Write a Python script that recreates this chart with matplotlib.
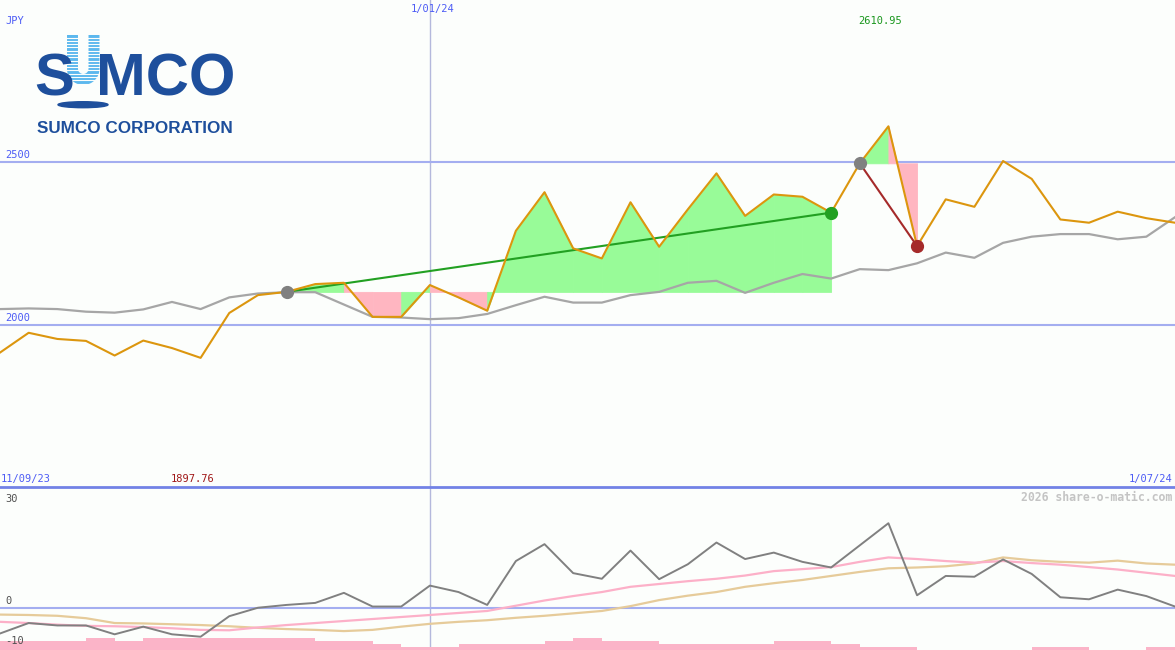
import matplotlib
matplotlib.use('Agg')
import matplotlib.pyplot as plt
from matplotlib.patches import Ellipse
import numpy as np

# weekly close (JPY) and its moving average
close = [1914, 1975, 1956, 1950, 1905, 1951, 1928, 1897.76, 2036, 2091,
         2101, 2125, 2129, 2024, 2024, 2122, 2084, 2043, 2289, 2408,
         2235, 2204, 2377, 2240, 2355, 2466, 2335, 2401, 2394, 2345,
         2497, 2610.95, 2242, 2386, 2363, 2504, 2449, 2324, 2314, 2348,
         2328, 2314]
avg = [2048, 2050, 2048, 2040, 2037, 2047, 2070, 2048, 2084, 2096,
       2100, 2100, 2062, 2024, 2022, 2017, 2020, 2033, 2060, 2086,
       2068, 2068, 2091, 2101, 2129, 2135, 2098, 2129, 2156, 2142,
       2171, 2168, 2189, 2222, 2206, 2252, 2271, 2279, 2279, 2263,
       2271, 2331]

# lower panel: oscillator, two signal lines, histogram
osc = [-6.4, -3.8, -4.4, -4.4, -6.6, -4.7, -6.6, -7.2, -2.1, 0.0,
       0.7, 1.2, 3.7, 0.3, 0.3, 5.5, 3.9, 0.7, 11.6, 15.8,
       8.6, 7.2, 14.2, 7.1, 10.8, 16.2, 12.1, 13.7, 11.4, 10.0,
       15.5, 21.0, 3.1, 7.9, 7.7, 12.0, 8.4, 2.6, 2.1, 4.5,
       2.9, 0.3]
sig_fast = [-3.5, -3.8, -4.2, -4.5, -4.6, -4.8, -5.1, -5.5, -5.6, -4.9,
            -4.3, -3.8, -3.3, -2.8, -2.3, -1.8, -1.3, -0.8, 0.5, 1.8,
            2.9, 3.9, 5.2, 5.9, 6.6, 7.2, 8.0, 9.1, 9.6, 10.1,
            11.4, 12.5, 12.1, 11.6, 11.2, 11.6, 11.1, 10.7, 10.1, 9.5,
            8.7, 7.9]
sig_slow = [-1.7, -1.8, -2.0, -2.6, -3.8, -3.9, -4.1, -4.3, -4.6, -5.0,
            -5.3, -5.5, -5.8, -5.5, -4.7, -4.0, -3.5, -3.1, -2.5, -2.0,
            -1.4, -0.8, 0.4, 1.9, 3.0, 3.9, 5.2, 6.1, 6.9, 7.9,
            8.9, 9.8, 10.0, 10.3, 11.0, 12.5, 11.8, 11.4, 11.2, 11.7,
            11.0, 10.7]
hist = [2.2, 2.2, 2.2, 2.9, 2.2, 2.9, 2.9, 2.9, 2.9, 2.9,
        2.9, 2.2, 2.2, 1.5, 0.8, 0.8, 1.5, 1.5, 1.5, 2.2,
        2.9, 2.2, 2.2, 1.5, 1.5, 1.5, 1.5, 2.2, 2.2, 1.5,
        0.8, 0.8, 0, 0, 0, 0, 0.8, 0.8, 0, 0,
        0.8]

price_levels = [2000, 2500]
osc_levels = [30, 0, -10]
first_date, year_date, last_date = '11/09/23', '1/01/24', '1/07/24'
year_idx = 15
swing_up = (10, 29)
swing_down = (30, 32)

x = np.arange(len(close))
BG = '#fcfefc'
BLUE = '#4d5cf5'
GRIDC = '#a4aef0'
MONO = 'DejaVu Sans Mono'
DARK = '#1e4f9c'

fig = plt.figure(figsize=(11.75, 6.5), dpi=100, facecolor=BG)
ax = fig.add_axes([0, 163 / 650, 1, 487 / 650])
ax2 = fig.add_axes([0, 0, 1, 163 / 650])
for a in (ax, ax2):
    a.set_facecolor(BG)
    a.set_xlim(0, len(close) - 1)
    a.set_xticks([])
    a.set_yticks([])
    for s in a.spines.values():
        s.set_visible(False)
    a.axvline(year_idx, color='#b4b8dc', lw=1, zorder=0)
ax.set_ylim(1500, 3000)
ax2.set_ylim(-10.5, 30)

# price panel
for lv in price_levels:
    ax.axhline(lv, color=GRIDC, lw=1.5, zorder=0)
    ax.annotate(str(lv), xy=(0, lv), xycoords=('axes fraction', 'data'),
                xytext=(5, 2), textcoords='offset pixels', va='bottom',
                ha='left', color=BLUE, family=MONO, fontsize=7.5)


def swing(a, b, line_col, end_col):
    # colour each step by where it ends relative to the swing's start
    base = close[a]
    for i in range(a, b):
        col = '#98fb98' if close[i + 1] > base else '#ffb6c1'
        ax.fill_between([i, i + 1], [close[i], close[i + 1]], base,
                        facecolor=col, edgecolor=col, lw=0.6, zorder=1)
    ax.plot([a, b], [close[a], close[b]], color=line_col, lw=1.5, zorder=3)
    ax.plot(a, close[a], 'o', color='#808080', ms=8.5, zorder=4)
    ax.plot(b, close[b], 'o', color=end_col, ms=8.5, zorder=4)


ax.plot(x, avg, color='#a6a6a6', lw=1.6, zorder=2)
swing(swing_up[0], swing_up[1], '#22a022', '#22a022')
swing(swing_down[0], swing_down[1], '#a52a2a', '#a52a2a')
ax.plot(x, close, color='#dc960e', lw=1.5, zorder=3)

imax = int(np.argmax(close))
imin = int(np.argmin(close))
ax.annotate('JPY', xy=(0, 1), xycoords='axes fraction', xytext=(5, -16),
            textcoords='offset pixels', va='top', ha='left', color=BLUE,
            family=MONO, fontsize=7.5)
ax.annotate(year_date, xy=(year_idx, 1), xycoords=('data', 'axes fraction'),
            xytext=(3, -4), textcoords='offset pixels', va='top', ha='center',
            color=BLUE, family=MONO, fontsize=7.5)
ax.annotate('%.2f' % close[imax], xy=(imax, 1), xycoords=('data', 'axes fraction'),
            xytext=(-8, -16), textcoords='offset pixels', va='top', ha='center',
            color='#18961c', family=MONO, fontsize=7.5)
ax.annotate('%.2f' % close[imin], xy=(imin, 0), xycoords=('data', 'axes fraction'),
            xytext=(-8, 3), textcoords='offset pixels', va='bottom', ha='center',
            color='#a01818', family=MONO, fontsize=7.5)
ax.annotate(first_date, xy=(0, 0), xycoords='axes fraction', xytext=(1, 3),
            textcoords='offset pixels', va='bottom', ha='left', color=BLUE,
            family=MONO, fontsize=7.5)
ax.annotate(last_date, xy=(1, 0), xycoords='axes fraction', xytext=(-3, 3),
            textcoords='offset pixels', va='bottom', ha='right', color=BLUE,
            family=MONO, fontsize=7.5)

# oscillator panel
ax2.axhline(30, color='#7282e6', lw=2, clip_on=False, zorder=5)
ax2.axhline(0, color=GRIDC, lw=1.5, zorder=0)
ax2.bar(x[:-1], hist, width=1, align='edge', bottom=-10.5, color='#fbb4c8',
        lw=0, zorder=1)
ax2.plot(x, sig_slow, color='#e6cb9a', lw=1.6, zorder=2)
ax2.plot(x, sig_fast, color='#fcb0c8', lw=1.6, zorder=2)
ax2.plot(x, osc, color='#808080', lw=1.4, zorder=3)
for lv in osc_levels:
    top = lv == max(osc_levels)
    ax2.annotate(str(lv), xy=(0, lv), xycoords=('axes fraction', 'data'),
                 xytext=(5, -7 if top else 2), textcoords='offset pixels',
                 va='top' if top else 'bottom', ha='left', color='#505050',
                 family=MONO, fontsize=7.5)
ax2.annotate('2026 share-o-matic.com', xy=(1, 1), xycoords='axes fraction',
             xytext=(-3, -4), textcoords='offset pixels', va='top', ha='right',
             color='#c4c4c4', family=MONO, fontweight='bold', fontsize=8.3)

# company logo
lg = fig.add_axes([0, 0, 1, 1], zorder=10)
lg.set_xlim(0, 1175)
lg.set_ylim(650, 0)
lg.axis('off')
lg.patch.set_visible(False)
th = np.linspace(np.pi, 0, 40)
ux = np.concatenate([[72.5], 83.25 + 10.75 * np.cos(th), [94]])
uy = np.concatenate([[35], 68.75 + 10.75 * np.sin(th), [35]])
lg.plot(ux, uy, color='#5cb8ee', lw=7.9, solid_capstyle='butt')
for yy in np.arange(37.5, 86, 3.3):
    lg.plot([64, 102], [yy, yy], color=BG, lw=0.8)
lg.text(34.5, 95, 'S', fontsize=43, fontweight='bold', family='Liberation Sans',
        color=DARK, va='baseline', ha='left')
lg.text(95.5, 95, 'MCO', fontsize=43, fontweight='bold', family='Liberation Sans',
        color=DARK, va='baseline', ha='left')
lg.add_patch(Ellipse((83, 104.7), 50, 6, color=DARK))
lg.text(37, 133.3, 'SUMCO CORPORATION', fontsize=12.3, fontweight='bold',
        family='Liberation Sans', color=DARK, va='baseline', ha='left')

fig.savefig('out.png', dpi=100, facecolor=BG)
